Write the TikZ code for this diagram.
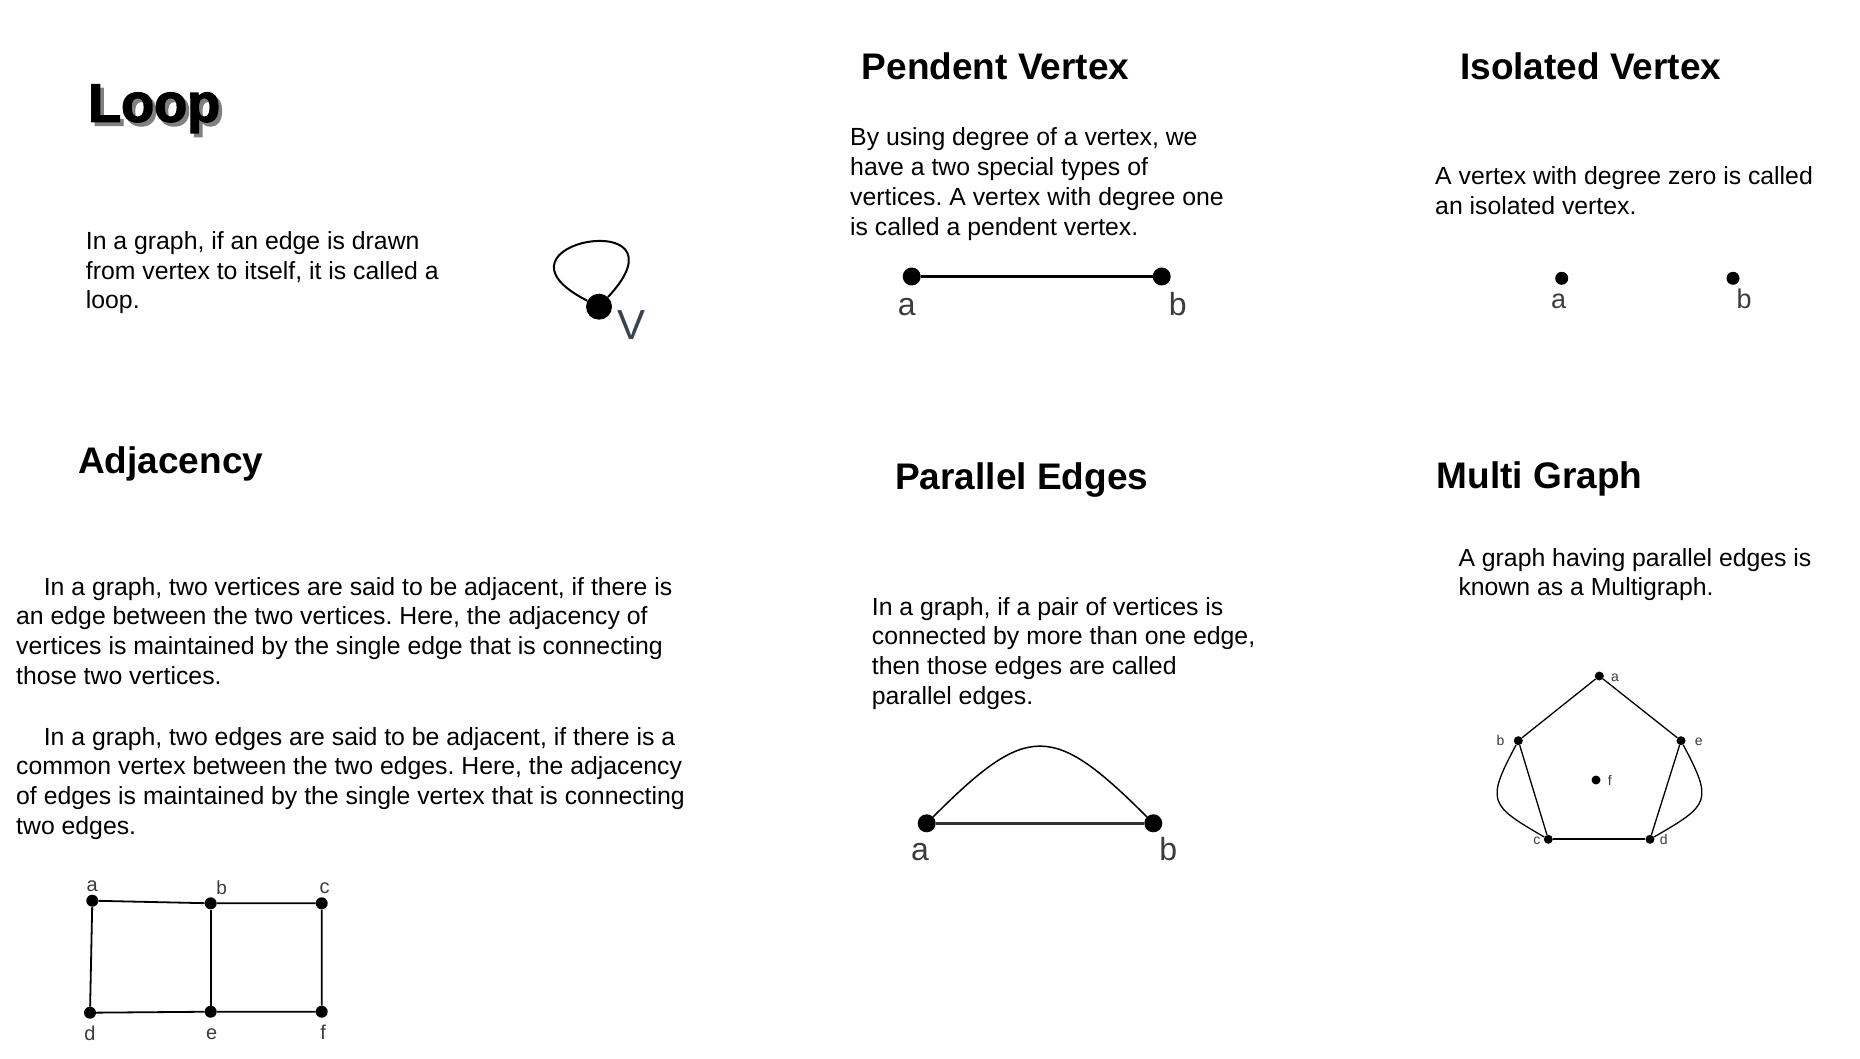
\documentclass[tikz,border=0pt]{standalone}
\usepackage{fontspec}
\setmainfont{Liberation Sans}
\newfontfamily\heavyfont{Liberation Sans}[UprightFont={* Bold},UprightFeatures={FakeBold=2.5}]
\usetikzlibrary{positioning}
\definecolor{lblgray}{RGB}{60,60,60}
\definecolor{vslate}{RGB}{55,66,82}
\frenchspacing

\begin{document}
\begin{tikzpicture}[x=1pt,y=-1pt,
  title/.style={anchor=base west,inner sep=0,font=\fontsize{37}{44}\selectfont\bfseries},
  body/.style={anchor=base west,inner sep=0,align=left,font=\fontsize{24.8}{29.7}\selectfont},
  dot/.style={circle,fill=black,inner sep=0,minimum size=#1},
  lbl/.style={inner sep=0,text=lblgray,font=\fontsize{#1}{#1}\selectfont,text height=0.73*#1pt,text depth=0pt}]
  \useasboundingbox[fill=white] (0,0) rectangle (1860,1059);

  % Loop
  \node[title,font=\heavyfont\fontsize{54}{60}\selectfont,text=black!50] (loopshade) at (91.5,125.5) {Loop};
  \node[title,font=\heavyfont\fontsize{54}{60}\selectfont] (looptitle) at (88,121.7) {Loop};
  \node[body] (looptext) at (85.7,308.7) {In a graph, if an edge is drawn\\from vertex to itself, it is called a\\loop.};
  \node[dot=26] (v) at (599,306.7) {};
  \node[right=5pt of v,yshift=-18pt,inner sep=0,text=vslate,font=\fontsize{42}{42}\selectfont] (vlbl) {V};
  \draw[line width=2pt] (v) to[out=153,in=47,min distance=128pt] (v);

  % Pendent Vertex
  \node[title] (pendtitle) at (861.7,80) {Pendent Vertex};
  \node[body] (pendtext) at (850,235.1) {By using degree of a vertex, we\\have a two special types of\\vertices. A vertex with degree one\\is called a pendent vertex.};
  \node[dot=18] (pa) at (911.7,276.5) {};
  \node[dot=18] (pb) at (1161.7,276.5) {};
  \draw[line width=2.2pt] (pa) -- (pb);
  \node[lbl=32,below=6.5pt of pa,xshift=-5pt] (pla) {a};
  \node[lbl=32,below=6.5pt of pb,xshift=16pt] (plb) {b};

  % Isolated Vertex
  \node[title] (isotitle) at (1460,80) {Isolated Vertex};
  \node[body] (isotext) at (1435,214.7) {A vertex with degree zero is called\\an isolated vertex.};
  \node[dot=13] (ia) at (1561.7,278.3) {};
  \node[dot=13] (ib) at (1733,278.3) {};
  \node[lbl=27,below=4pt of ia,xshift=-3pt] (ila) {a};
  \node[lbl=27,below=4pt of ib,xshift=11pt] (ilb) {b};

  % Adjacency
  \node[title] (adjtitle) at (78,473.3) {Adjacency};
  \node[body] (adjtext1) at (16,684.1) {\hspace*{27.6pt}In a graph, two vertices are said to be adjacent, if there is\\an edge between the two vertices. Here, the adjacency of\\vertices is maintained by the single edge that is connecting\\those two vertices.};
  \node[body] (adjtext2) at (16,834.1) {\hspace*{27.6pt}In a graph, two edges are said to be adjacent, if there is a\\common vertex between the two edges. Here, the adjacency\\of edges is maintained by the single vertex that is connecting\\two edges.};
  \node[dot=12] (va) at (92.3,900.7) {};
  \node[dot=12] (vb) at (210.7,903.3) {};
  \node[dot=12] (vc) at (321.7,903.3) {};
  \node[dot=12] (vd) at (90,1012.7) {};
  \node[dot=12] (ve) at (210.7,1011.7) {};
  \node[dot=12] (vf) at (321.7,1011.7) {};
  \draw[line width=1.8pt] (va) -- (vb) -- (vc) -- (vf) -- (ve) -- (vd) -- (va);
  \draw[line width=1.8pt] (vb) -- (ve);
  \node[lbl=20,above=3pt of va] (la) {a};
  \node[lbl=19,above=2.5pt of vb,xshift=11pt] (lb) {b};
  \node[lbl=20,above=3pt of vc,xshift=3pt] (lc) {c};
  \node[lbl=20,below=7pt of vd] (ld) {d};
  \node[lbl=20,below=7pt of ve,xshift=1pt] (le) {e};
  \node[lbl=20,below=7pt of vf,xshift=1.5pt] (lf) {f};

  % Parallel Edges
  \node[title] (partitle) at (895,489.3) {Parallel Edges};
  \node[body] (partext) at (871.7,704.1) {In a graph, if a pair of vertices is\\connected by more than one edge,\\then those edges are called\\parallel edges.};
  \node[dot=18] (qa) at (926.7,823.3) {};
  \node[dot=18] (qb) at (1153.3,823.3) {};
  \draw[line width=2.5pt,black!80] (qa) -- (qb);
  \draw[line width=1.5pt] (qa) to[out=45,in=135,looseness=1.6] (qb);
  \node[lbl=32,below=4.3pt of qa,xshift=-6.7pt] (qla) {a};
  \node[lbl=32,below=4.3pt of qb,xshift=15pt] (qlb) {b};

  % Multi Graph
  \node[title] (multititle) at (1436.7,488.3) {Multi Graph};
  \node[body] (multitext) at (1458.3,595.7) {A graph having parallel edges is\\known as a Multigraph.};
  \node[dot=9] (ma) at (1599.3,676) {};
  \node[dot=9] (mb) at (1518.3,740.7) {};
  \node[dot=9] (me) at (1681,740.7) {};
  \node[dot=9] (mf) at (1596,780) {};
  \node[dot=9] (mc) at (1548.3,839.3) {};
  \node[dot=9] (md) at (1650,839.3) {};
  \draw[line width=1.3pt] (mb) -- (ma) -- (me);
  \draw[line width=1.3pt] (mb) -- (mc);
  \draw[line width=1.3pt] (me) -- (md);
  \draw[line width=2pt] (mc) -- (md);
  \draw[line width=1.3pt] (mb) to[out=-118,in=150,looseness=1.7] (mc);
  \draw[line width=1.3pt] (me) to[out=-62,in=30,looseness=1.7] (md);
  \node[lbl=14,right=7pt of ma] (mla) {a};
  \node[lbl=14,left=9pt of mb] (mlb) {b};
  \node[lbl=14,right=9pt of me] (mle) {e};
  \node[lbl=14,right=7pt of mf] (mlf) {f};
  \node[lbl=14,left=3pt of mc] (mlc) {c};
  \node[lbl=14,right=5pt of md] (mld) {d};
\end{tikzpicture}
\end{document}
